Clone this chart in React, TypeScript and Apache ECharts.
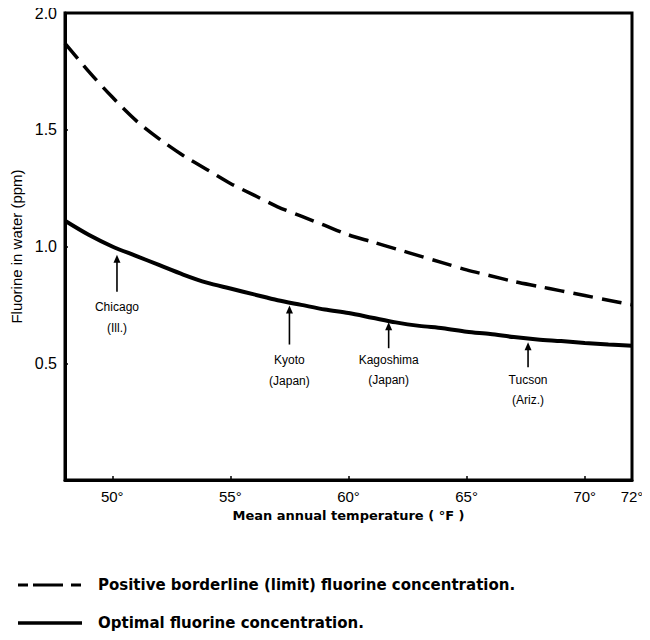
import React, { useEffect, useRef } from "react";
import * as echarts from "echarts";

// ---- data ----
const temperatures = [48, 49, 50, 51, 52, 53, 54, 55, 56, 57, 58, 59, 60, 61, 62, 63, 64, 65, 66, 67, 68, 69, 70, 71, 72];
const borderlineValues = [1.87, 1.75, 1.64, 1.54, 1.46, 1.39, 1.33, 1.27, 1.22, 1.17, 1.13, 1.09, 1.05, 1.02, 0.99, 0.96, 0.93, 0.9, 0.875, 0.85, 0.83, 0.81, 0.79, 0.77, 0.75];
const optimalValues = [1.11, 1.05, 1.0, 0.96, 0.92, 0.88, 0.845, 0.82, 0.795, 0.77, 0.75, 0.73, 0.715, 0.695, 0.675, 0.66, 0.65, 0.635, 0.625, 0.612, 0.602, 0.595, 0.587, 0.58, 0.575];

const cityNames = ["Chicago", "Kyoto", "Kagoshima", "Tucson"];
const cityRegions = ["(Ill.)", "(Japan)", "(Japan)", "(Ariz.)"];
const cityTemps = [50.2, 57.5, 61.7, 67.6];
const cityValues = [0.99, 0.76, 0.68, 0.607];

const xTickLabels = [50, 55, 60, 65, 70, 72];
const yTickLabels = [0.5, 1.0, 1.5, 2.0];

const seriesNames = [
  "Positive borderline (limit) fluorine concentration.",
  "Optimal fluorine concentration.",
];

// ---- styling (pixel offsets of annotation arrows below the curve) ----
const annotLayout = [
  { tip: 6, tail: 43, l1: 58, l2: 79 },
  { tip: 3, tail: 42, l1: 57, l2: 78 },
  { tip: 1, tail: 27, l1: 39, l2: 59 },
  { tip: 4, tail: 29, l1: 42, l2: 62 },
];

const FONT = "'Liberation Sans', Arial, sans-serif";
const BOLD_FONT = "'DejaVu Sans', 'Liberation Sans', Arial, sans-serif";

export default function App() {
  const ref = useRef<HTMLDivElement>(null);

  useEffect(() => {
    if (!ref.current) return;
    const chart = echarts.init(ref.current, undefined, { renderer: "svg" });

    const annotData = cityTemps.map((t, i) => [t, cityValues[i], i]);

    chart.setOption({
      animation: false,
      backgroundColor: "#ffffff",
      textStyle: { fontFamily: FONT, color: "#000" },
      grid: {
        left: 65,
        right: 18,
        top: 13,
        bottom: 160,
        show: true,
        borderColor: "#000",
        borderWidth: 3,
        backgroundColor: "transparent",
      },
      graphic: [
        {
          type: "line",
          shape: { x1: 18, y1: 585, x2: 82, y2: 585 },
          style: { stroke: "#000", lineWidth: 3, lineDash: [10, 5, 30, 8] },
        },
        {
          type: "text",
          left: 98,
          top: 577,
          style: {
            text: seriesNames[0],
            font: `bold 15px ${BOLD_FONT}`,
            fill: "#000",
          },
        },
        {
          type: "line",
          shape: { x1: 18, y1: 623, x2: 82, y2: 623 },
          style: { stroke: "#000", lineWidth: 3.5 },
        },
        {
          type: "text",
          left: 98,
          top: 615,
          style: {
            text: seriesNames[1],
            font: `bold 15px ${BOLD_FONT}`,
            fill: "#000",
          },
        },
      ],
      xAxis: {
        type: "value",
        min: 48,
        max: 72,
        interval: 1,
        name: "Mean annual temperature ( °F )",
        nameLocation: "middle",
        nameGap: 25,
        nameTextStyle: { fontFamily: BOLD_FONT, fontWeight: "bold", fontSize: 13, color: "#000" },
        axisLine: { show: true, lineStyle: { color: "#000", width: 3 } },
        axisTick: { show: true, inside: true, length: 4, customValues: [50, 55, 60, 65, 70], lineStyle: { color: "#000", width: 1.5 } },
        axisLabel: {
          customValues: xTickLabels,
          formatter: (v: number) => `${v}°`,
          fontFamily: FONT,
          fontSize: 15,
          color: "#000",
          margin: 9,
        },
        splitLine: { show: false },
      },
      yAxis: {
        type: "value",
        min: 0,
        max: 2,
        interval: 0.5,
        name: "Fluorine in water (ppm)",
        nameLocation: "middle",
        nameGap: 39,
        nameTextStyle: { fontFamily: FONT, fontSize: 15, color: "#000" },
        axisLine: { show: true, lineStyle: { color: "#000", width: 3 } },
        axisTick: { show: true, inside: true, length: 3, customValues: yTickLabels, lineStyle: { color: "#000", width: 1.5 } },
        axisLabel: {
          customValues: yTickLabels,
          formatter: (v: number) => v.toFixed(1),
          fontFamily: FONT,
          fontSize: 16,
          color: "#000",
          margin: 8,
        },
        splitLine: { show: false },
      },
      series: [
        {
          name: seriesNames[0],
          type: "line",
          data: temperatures.map((t, i) => [t, borderlineValues[i]]),
          smooth: 0.3,
          symbol: "none",
          lineStyle: { color: "#000", width: 3.5, type: [20, 9] },
          itemStyle: { color: "#000" },
        },
        {
          name: seriesNames[1],
          type: "line",
          data: temperatures.map((t, i) => [t, optimalValues[i]]),
          smooth: 0.3,
          symbol: "none",
          lineStyle: { color: "#000", width: 4 },
          itemStyle: { color: "#000" },
        },
        {
          name: "annotations",
          type: "custom",
          data: annotData,
          silent: true,
          z: 5,
          renderItem: (params: any, api: any) => {
            const idx = api.value(2);
            const p = api.coord([api.value(0), api.value(1)]);
            const L = annotLayout[idx];
            const x = p[0];
            const y = p[1];
            return {
              type: "group",
              children: [
                {
                  type: "line",
                  shape: { x1: x, y1: y + L.tip + 6, x2: x, y2: y + L.tail },
                  style: { stroke: "#000", lineWidth: 1.6 },
                },
                {
                  type: "polygon",
                  shape: { points: [[x, y + L.tip], [x - 3.5, y + L.tip + 8], [x + 3.5, y + L.tip + 8]] },
                  style: { fill: "#000" },
                },
                {
                  type: "text",
                  style: {
                    x: x,
                    y: y + L.l1,
                    text: cityNames[idx],
                    textAlign: "center",
                    textVerticalAlign: "middle",
                    font: `12px ${FONT}`,
                    fill: "#000",
                  },
                },
                {
                  type: "text",
                  style: {
                    x: x,
                    y: y + L.l2,
                    text: cityRegions[idx],
                    textAlign: "center",
                    textVerticalAlign: "middle",
                    font: `12px ${FONT}`,
                    fill: "#000",
                  },
                },
              ],
            };
          },
        },
      ],
    });

    return () => chart.dispose();
  }, []);

  return <div ref={ref} style={{ width: 650, height: 640, margin: -8 }} />;
}
